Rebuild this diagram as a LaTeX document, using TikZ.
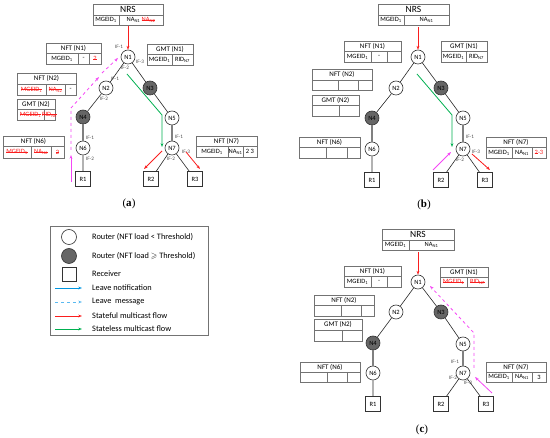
\documentclass[tikz,border=0pt]{standalone}
\usepackage{fontspec}
\setmainfont{Carlito}
\newfontfamily\capfont{Liberation Serif}
\usepackage{amssymb}
\usepackage{tikz}
\usetikzlibrary{arrows.meta}
\usepackage{xcolor}
\definecolor{flowred}{RGB}{250, 30, 30}
\definecolor{flowgreen}{RGB}{0, 176, 80}
\definecolor{leavepink}{RGB}{245, 70, 245}
\definecolor{notifblue}{RGB}{0, 150, 225}
\definecolor{msgblue}{RGB}{90, 185, 240}
\newcommand{\gone}[1]{\setbox0\hbox{#1}\rlap{\rule[0.24em]{\wd0}{0.4pt}}\box0}

\begin{document}
\begin{tikzpicture}[x=1pt, y=-1pt,
    router/.style={circle, draw=black!80, fill=white, line width=0.6pt, minimum size=14pt, inner sep=0pt, font=\fontsize{6.5}{7}\selectfont},
    busy/.style={router, fill=black!60},
    recv/.style={draw=black!80, fill=white, line width=0.6pt, minimum size=15pt, inner sep=0pt, font=\fontsize{6.5}{7}\selectfont},
    link/.style={black!85, line width=0.6pt},
    trunk/.style={black!50, line width=1.4pt},
    tab/.style={draw=black!55, line width=0.5pt},
    nrshead/.style={font=\fontsize{9.5}{10}\selectfont, inner sep=0pt},
    thead/.style={font=\fontsize{7}{8}\selectfont, inner sep=0pt},
    tcell/.style={font=\fontsize{6.5}{7}\selectfont, inner sep=0pt},
    tgone/.style={tcell, text=flowred},
    iflab/.style={font=\fontsize{5.2}{5}\selectfont, text=black!70, inner sep=0pt},
    legtext/.style={font=\fontsize{8.3}{9}\selectfont, anchor=west, inner sep=0pt},
    panel/.style={font=\capfont\fontsize{11}{12}\selectfont, inner sep=0pt},
    flowtip/.style={-{Stealth[length=3.8pt, width=2.8pt]}, line width=0.8pt},
    stateful/.style={flowtip, draw=flowred},
    stateless/.style={flowtip, draw=flowgreen},
    leave/.style={flowtip, draw=leavepink},
    leavemsg/.style={leave, dashed},
    notif/.style={flowtip, draw=notifblue},
    notifmsg/.style={flowtip, draw=msgblue, dashed}]

\useasboundingbox (0,0) rectangle (550,438);

% ---- PANEL (a) ----
% NRS
\draw[tab] (93,4) rectangle (163,25) (93,15) -- (163,15) (119,15) -- (119,25);
\node[nrshead] (aNRS) at (128,9.5) {NRS};
\node[tcell] (aNRSg) at (106,20) {MGEID\textsubscript{1}};
\node[tcell] (aNRSn) at (141,20) {NA\textsubscript{N1} \textcolor{flowred}{\gone{NA\textsubscript{N2}}}};
\coordinate (aNRSb) at (128,26);

% NFT (N1) and GMT (N1)
\draw[tab] (46,43) rectangle (101,64) (46,53) -- (101,53) (78,53) -- (78,64) (89,53) -- (89,64);
\node[thead] (aF1) at (73.5,48) {NFT (N1)};
\node[tcell] (aF1g) at (62,58.5) {MGEID\textsubscript{1}};
\node[tcell] (aF1n) at (83.5,58.5) {-};
\node[tgone] (aF1c) at (95,58.5) {\gone{2}};
\draw[tab] (147,44) rectangle (193,65) (147,54.5) -- (193,54.5) (172,54.5) -- (172,65);
\node[thead] (aG1) at (170,49) {GMT (N1)};
\node[tcell] (aG1g) at (159.5,59.7) {MGEID\textsubscript{1}};
\node[tcell] (aG1r) at (182.5,59.7) {RID\textsubscript{N7}};

% NFT (N2) and GMT (N2)
\draw[tab] (17,73) rectangle (76,95) (17,84) -- (76,84) (46,84) -- (46,95) (65,84) -- (65,95);
\node[thead] (aF2) at (46.5,78.5) {NFT (N2)};
\node[tgone] (aF2g) at (31.5,89.5) {\gone{MGEID\textsubscript{1}}};
\node[tgone] (aF2n) at (55.5,89.5) {\gone{NA\textsubscript{N2}}};
\node[tcell] (aF2c) at (70.5,89.5) {-};
\draw[tab] (17,99) rectangle (55,120) (17,109) -- (55,109) (44,109) -- (44,120);
\node[thead] (aG2) at (36,104) {GMT (N2)};
\node[tgone] (aG2g) at (30.5,114.5) {\gone{MGEID\textsubscript{1}}};
\node[tgone] (aG2r) at (49.5,114.5) {\gone{RID\textsubscript{N6}}};

% NFT (N6) and NFT (N7)
\draw[tab] (3,136) rectangle (64,158) (3,146) -- (64,146) (31,146) -- (31,158) (51,146) -- (51,158);
\node[thead] (aF6) at (33.5,141) {NFT (N6)};
\node[tgone] (aF6g) at (17,152) {\gone{MGEID\textsubscript{1}}};
\node[tgone] (aF6n) at (41,152) {\gone{NA\textsubscript{N6}}};
\node[tgone] (aF6c) at (57.5,152) {\gone{2}};
\draw[tab] (196,136) rectangle (257,157) (196,146) -- (257,146) (228,146) -- (228,157) (243,146) -- (243,157);
\node[thead] (aF7) at (226.5,141) {NFT (N7)};
\node[tcell] (aF7g) at (212,151.5) {MGEID\textsubscript{1}};
\node[tcell] (aF7n) at (235.5,151.5) {NA\textsubscript{N1}};
\node[tcell] (aF7c) at (250,151.5) {2 3};

% tree
\node[router] (a1) at (128,57) {N1};
\node[router] (a2) at (106,88) {N2};
\node[busy] (a3) at (150,88) {N3};
\node[busy] (a4) at (83,117) {N4};
\node[router] (a5) at (172,118) {N5};
\node[router] (a6) at (83,148) {N6};
\node[router] (a7) at (172,148) {N7};
\node[recv] (aR1) at (83,179) {R1};
\node[recv] (aR2) at (151,179) {R2};
\node[recv] (aR3) at (195,179) {R3};
\draw[link] (a1) -- (a2) (a1) -- (a3) (a2) -- (a4) (a3) -- (a5);
\draw[trunk] (a4) -- (a6) (a5) -- (a7);
\draw[link] (a6) -- (aR1) (a7) -- (aR2) (a7) -- (aR3);

% interfaces
\node[iflab] (aI11) at (119,47) {IF-1};
\node[iflab] (aI13) at (140,62) {IF-3};
\node[iflab] (aI12) at (125,68) {IF-2};
\node[iflab] (aI21) at (115,79) {IF-1};
\node[iflab] (aI22) at (104,99) {IF-2};
\node[iflab] (aI61) at (90,137.5) {IF-1};
\node[iflab] (aI62) at (90,159) {IF-2};
\node[iflab] (aI71) at (179,137) {IF-1};
\node[iflab] (aI73) at (186,152) {IF-3};
\node[iflab] (aI72) at (171,159) {IF-2};

% flows
\coordinate (aL0) at (71,182);
\coordinate (aL1) at (71,155);
\coordinate (aL2) at (71,150);
\coordinate (aL3) at (71,108);
\coordinate (aL4) at (99,77);
\coordinate (aL5) at (102,73);
\coordinate (aL6) at (118,58);
\coordinate (aS0) at (127,74);
\coordinate (aS1) at (162,115);
\coordinate (aS2) at (162,147);
\coordinate (aT1) at (162,151);
\coordinate (aT2) at (144,169);
\coordinate (aT3) at (186,152);
\coordinate (aT4) at (200,169);
\draw[stateful] (aNRSb) -- (a1);
\draw[leave] (aL0) -- (aL1);
\draw[leavemsg] (aL2) -- (aL3) -- (aL4);
\draw[leavemsg] (aL5) -- (aL6);
\draw[stateless] (aS0) -- (aS1) -- (aS2);
\draw[stateful] (aT1) -- (aT2);
\draw[stateful] (aT3) -- (aT4);
\node[panel] (capA) at (129,204) {(\textbf{a})};

% ---- PANEL (b) ----
% NRS
\draw[tab] (378,4) rectangle (449,25) (378,15) -- (449,15) (404,15) -- (404,25);
\node[nrshead] (bNRS) at (413.5,9.5) {NRS};
\node[tcell] (bNRSg) at (391,20) {MGEID\textsubscript{1}};
\node[tcell] (bNRSn) at (426.5,20) {NA\textsubscript{N1}};
\coordinate (bNRSb) at (418,27);

% NFT (N1) and GMT (N1)
\draw[tab] (344,41) rectangle (401,62) (344,51) -- (401,51) (371,51) -- (371,62) (387,51) -- (387,62);
\node[thead] (bF1) at (372.5,46) {NFT (N1)};
\node[tcell] (bF1g) at (357.5,56.5) {MGEID\textsubscript{1}};
\node[tcell] (bF1n) at (379,56.5) {-};
\draw[tab] (441,41) rectangle (487,62) (441,51) -- (487,51) (466,51) -- (466,62);
\node[thead] (bG1) at (464,46) {GMT (N1)};
\node[tcell] (bG1g) at (453.5,56.5) {MGEID\textsubscript{1}};
\node[tcell] (bG1r) at (476.5,56.5) {RID\textsubscript{N7}};

% NFT (N2) and GMT (N2)
\draw[tab] (312,69) rectangle (372,90) (312,80) -- (372,80) (338,80) -- (338,90) (358,80) -- (358,90);
\node[thead] (bF2) at (342,74.5) {NFT (N2)};
\draw[tab] (312,95) rectangle (359,116) (312,105) -- (359,105) (339,105) -- (339,116);
\node[thead] (bG2) at (335.5,100) {GMT (N2)};

% NFT (N6) and NFT (N7)
\draw[tab] (299,137) rectangle (360,158) (299,147) -- (360,147) (326,147) -- (326,158) (347,147) -- (347,158);
\node[thead] (bF6) at (329.5,142) {NFT (N6)};
\draw[tab] (486,137) rectangle (546,158) (486,147) -- (546,147) (512,147) -- (512,158) (532,147) -- (532,158);
\node[thead] (bF7) at (516,142) {NFT (N7)};
\node[tcell] (bF7g) at (499,152.5) {MGEID\textsubscript{1}};
\node[tcell] (bF7n) at (522,152.5) {NA\textsubscript{N1}};
\node[tgone] (bF7c) at (539,152.5) {\gone{2}-3};

% tree
\node[router] (b1) at (418,57) {N1};
\node[router] (b2) at (396,88) {N2};
\node[busy] (b3) at (441,88) {N3};
\node[busy] (b4) at (372,118) {N4};
\node[router] (b5) at (463,118) {N5};
\node[router] (b6) at (372,149) {N6};
\node[router] (b7) at (463,149) {N7};
\node[recv] (bR1) at (372,180) {R1};
\node[recv] (bR2) at (441,180) {R2};
\node[recv] (bR3) at (485,180) {R3};
\draw[link] (b1) -- (b2) (b1) -- (b3) (b2) -- (b4) (b3) -- (b5);
\draw[trunk] (b4) -- (b6) (b5) -- (b7);
\draw[link] (b6) -- (bR1) (b7) -- (bR2) (b7) -- (bR3);

% interfaces
\node[iflab] (bI71) at (470,137) {IF-1};
\node[iflab] (bI73) at (476,152) {IF-3};
\node[iflab] (bI72) at (460,160) {IF-2};

% flows
\coordinate (bS0) at (417,74);
\coordinate (bS1) at (452,115);
\coordinate (bS2) at (452,147);
\coordinate (bL0) at (433,170);
\coordinate (bL1) at (451,152);
\coordinate (bT1) at (472,154);
\coordinate (bT2) at (490,170);
\draw[stateful] (bNRSb) -- (b1);
\draw[stateless] (bS0) -- (bS1) -- (bS2);
\draw[leave] (bL0) -- (bL1);
\draw[stateful] (bT1) -- (bT2);
\node[panel] (capB) at (424,205) {(\textbf{b})};

% ---- LEGEND ----
\draw[tab, line width=0.7pt] (50,226) rectangle (208,335);
\node[router, minimum size=15pt] (lgFree) at (69,237) {};
\node[legtext] (lgFreeT) at (92,237) {Router (NFT load < Threshold)};
\node[busy, minimum size=15pt] (lgBusy) at (69,256) {};
\node[legtext] (lgBusyT) at (92,256) {Router (NFT load $\geqslant$ Threshold)};
\node[recv, minimum size=14pt] (lgRecv) at (69,274) {};
\node[legtext] (lgRecvT) at (92,274) {Receiver};
\coordinate (lgN0) at (55,288);
\coordinate (lgN1) at (82,288);
\draw[notif] (lgN0) -- (lgN1);
\node[legtext] (lgNT) at (92,288) {Leave notification};
\coordinate (lgM0) at (55,302);
\coordinate (lgM1) at (82,302);
\draw[notifmsg] (lgM0) -- (lgM1);
\node[legtext] (lgMT) at (92,302) {Leave\ \ message};
\coordinate (lgF0) at (55,316);
\coordinate (lgF1) at (82,316);
\draw[stateful] (lgF0) -- (lgF1);
\node[legtext] (lgFT) at (92,316) {Stateful multicast flow};
\coordinate (lgS0) at (55,329);
\coordinate (lgS1) at (82,329);
\draw[stateless] (lgS0) -- (lgS1);
\node[legtext] (lgST) at (92,329) {Stateless multicast flow};

% ---- PANEL (c) ----
% NRS
\draw[tab] (382,229) rectangle (454,250) (382,240) -- (454,240) (409,240) -- (409,250);
\node[nrshead] (cNRS) at (418,234.5) {NRS};
\node[tcell] (cNRSg) at (395.5,245) {MGEID\textsubscript{1}};
\node[tcell] (cNRSn) at (431.5,245) {NA\textsubscript{N1}};
\coordinate (cNRSb) at (418,252);

% NFT (N1) and GMT (N1)
\draw[tab] (344,266) rectangle (401,287) (344,276) -- (401,276) (371,276) -- (371,287) (387,276) -- (387,287);
\node[thead] (cF1) at (372.5,271) {NFT (N1)};
\node[tcell] (cF1g) at (357.5,281.5) {MGEID\textsubscript{1}};
\node[tcell] (cF1n) at (379,281.5) {-};
\draw[tab] (440,267) rectangle (488,287) (440,277) -- (488,277) (467,277) -- (467,287);
\node[thead] (cG1) at (464,272) {GMT (N1)};
\node[tgone] (cG1g) at (453.5,282) {\gone{MGEID\textsubscript{1}}};
\node[tgone] (cG1r) at (477.5,282) {\gone{RID\textsubscript{N7}}};

% NFT (N2) and GMT (N2)
\draw[tab] (314,295) rectangle (374,316) (314,305) -- (374,305) (341,305) -- (341,316) (361,305) -- (361,316);
\node[thead] (cF2) at (344,300) {NFT (N2)};
\draw[tab] (314,319) rectangle (362,341) (314,330) -- (362,330) (342,330) -- (342,341);
\node[thead] (cG2) at (338,324.5) {GMT (N2)};

% NFT (N6) and NFT (N7)
\draw[tab] (300,362) rectangle (360,382) (300,372) -- (360,372) (327,372) -- (327,382) (347,372) -- (347,382);
\node[thead] (cF6) at (330,367) {NFT (N6)};
\draw[tab] (486,362) rectangle (546,382) (486,372) -- (546,372) (512,372) -- (512,382) (532,372) -- (532,382);
\node[thead] (cF7) at (516,367) {NFT (N7)};
\node[tcell] (cF7g) at (499,377) {MGEID\textsubscript{1}};
\node[tcell] (cF7n) at (522,377) {NA\textsubscript{N1}};
\node[tcell] (cF7c) at (539,377) {3};

% tree
\node[router] (c1) at (418,282) {N1};
\node[router] (c2) at (396,312) {N2};
\node[busy] (c3) at (441,312) {N3};
\node[busy] (c4) at (373,343) {N4};
\node[router] (c5) at (463,344) {N5};
\node[router] (c6) at (373,373) {N6};
\node[router] (c7) at (463,373) {N7};
\node[recv] (cR1) at (373,404) {R1};
\node[recv] (cR2) at (441,404) {R2};
\node[recv] (cR3) at (486,404) {R3};
\draw[link] (c1) -- (c2) (c1) -- (c3) (c2) -- (c4) (c3) -- (c5);
\draw[trunk] (c4) -- (c6) (c5) -- (c7);
\draw[link] (c6) -- (cR1) (c7) -- (cR2) (c7) -- (cR3);

% interfaces
\node[iflab] (cI71) at (455,362) {IF-1};
\node[iflab] (cI72) at (453,378) {IF-2};
\node[iflab] (cI73) at (468,383) {IF-3};

% flows
\coordinate (cL0) at (492,393);
\coordinate (cL1) at (475,377);
\coordinate (cL2) at (474,368);
\coordinate (cL3) at (474,333);
\coordinate (cL4) at (430,286);
\draw[stateful] (cNRSb) -- (c1);
\draw[leave] (cL0) -- (cL1);
\draw[leavemsg] (cL2) -- (cL3) -- (cL4);
\node[panel] (capC) at (422,430) {(\textbf{c})};
\end{tikzpicture}
\end{document}
